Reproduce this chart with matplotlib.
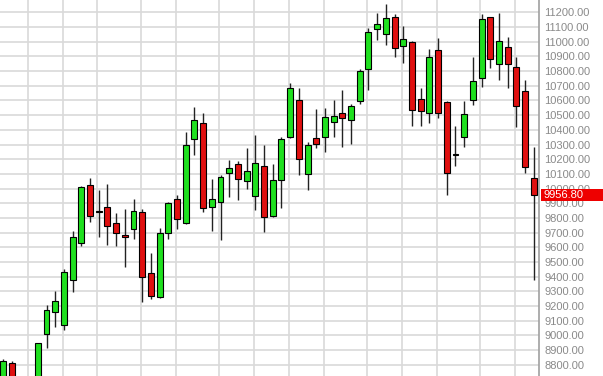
import numpy as np
import matplotlib
matplotlib.use("Agg")
import matplotlib.pyplot as plt
from matplotlib.patches import Rectangle
from matplotlib.transforms import blended_transform_factory

# weekly candles (open, high, low, close)
opens = [8650, 8809, 8700, 8600, 8660, 9008, 9156, 9068, 9374, 9627,
         10024, 9840, 9876, 9763, 9683, 9722, 9842, 9422, 9263, 9695,
         9929, 9763, 10336, 10445, 9872, 9906, 10108, 10165, 10053, 9949,
         10156, 9815, 10058, 10349, 10604, 10097, 10342, 10349, 10456, 10517,
         10467, 10597, 10815, 11085, 11053, 11167, 10972, 10997, 10608, 10517,
         10944, 10592, 10229, 10349, 10604, 10751, 11167, 10849, 10963, 10831,
         10665, 10074]
highs = [8835, 8823, 8715, 8690, 8950, 9206, 9302, 9450, 9711, 10015,
         10070, 9990, 10029, 9831, 9861, 9929, 9861, 9563, 9729, 9910,
         9956, 10387, 10558, 10513, 10063, 10092, 10195, 10190, 10274, 10365,
         10297, 10165, 10353, 10717, 10683, 10319, 10540, 10551, 10604, 10672,
         10576, 10813, 11092, 11199, 11258, 11190, 11108, 11008, 10683, 10949,
         11024, 10597, 10426, 10597, 10895, 11190, 11171, 11199, 11035, 10895,
         10740, 10285]
lows = [8620, 8680, 8550, 8520, 8640, 8911, 9058, 9036, 9297, 9610,
        9774, 9672, 9615, 9608, 9467, 9654, 9229, 9247, 9255, 9656,
        9722, 9755, 10229, 9842, 9713, 9649, 9944, 9922, 9995, 9854,
        9706, 9805, 9870, 10345, 10092, 9990, 10278, 10247, 10353, 10285,
        10304, 10576, 10672, 11013, 10978, 10895, 10854, 10426, 10426, 10449,
        10479, 9954, 10154, 10285, 10569, 10694, 10820, 10740, 10683, 10422,
        10104, 9377]
closes = [8824, 8700, 8600, 8660, 8945, 9172, 9233, 9429, 9672, 10008,
          9813, 9840, 9745, 9695, 9670, 9847, 9395, 9269, 9695, 9903,
          9790, 10297, 10467, 9865, 9927, 10077, 10142, 10065, 10120, 10172,
          9804, 10058, 10336, 10683, 10199, 10297, 10304, 10486, 10494, 10479,
          10563, 10803, 11069, 11122, 11160, 10956, 11017, 10535, 10529, 10895,
          10513, 10104, 10229, 10506, 10735, 11153, 10883, 11008, 10849, 10563,
          10149, 9956.8]

# candles where a new month starts (vertical grid lines)
month_starts = [3, 7, 11, 16, 20, 25, 29, 33, 37, 42, 46, 50, 55, 59]

# price scale on the right
price_ticks = list(range(8800, 11201, 100))
last_price = closes[-1]

x = np.arange(len(opens))
o = np.array(opens, dtype=float)
c = np.array(closes, dtype=float)
body_low = np.minimum(o, c)
body_h = np.abs(c - o)
body_h[body_h < 8] = 8  # keep doji visible as a thin black bar
colors = ["#1fe01f" if cl >= op else "#e01010" for op, cl in zip(opens, closes)]

fig = plt.figure(figsize=(6.03, 3.76), dpi=100)
ax = fig.add_axes([0, 0, 539 / 603, 1])

# grid lines
ax.set_xticks([m - 0.15 for m in month_starts])
ax.set_yticks(price_ticks)
ax.grid(True, color="#d9d9d9", linewidth=1.2)
ax.set_axisbelow(True)

# wicks then bodies
ax.vlines(x, lows, highs, color="#222222", linewidth=1.0, zorder=2)
ax.bar(x, body_h, bottom=body_low, width=0.68, color=colors,
       edgecolor="black", linewidth=0.8, zorder=3)

ax.set_xlim(-0.345, 61.6)
ax.set_ylim(8722, 11285)

# axis look: only the right border, labels on the right
for side in ["top", "left", "bottom"]:
    ax.spines[side].set_visible(False)
ax.spines["right"].set_color("#a0a0a0")
ax.spines["right"].set_linewidth(1.2)
ax.yaxis.tick_right()
ax.tick_params(axis="y", length=0, pad=4, labelsize=8, labelcolor="#8a8a8a")
ax.tick_params(axis="x", length=0, labelbottom=False)
ax.set_yticklabels(["%.2f" % p for p in price_ticks], family="Liberation Sans")

# last price marker
trans = blended_transform_factory(ax.transAxes, ax.transData)
ax.add_patch(Rectangle((1.004, last_price - 42), 0.12, 84, transform=trans,
                       facecolor="#ee0000", edgecolor="none", clip_on=False, zorder=5))
ax.text(1.009, last_price, "%.2f" % last_price, transform=trans, color="white",
        fontsize=8, family="Liberation Sans", va="center", ha="left", zorder=6)

plt.savefig("out.png", dpi=100)
